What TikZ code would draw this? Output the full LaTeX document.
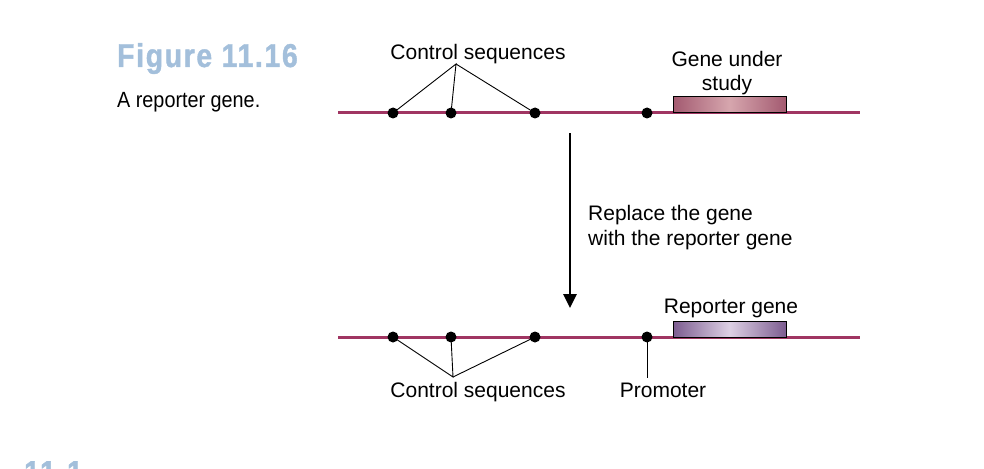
\documentclass[tikz,border=0pt]{standalone}
\usepackage{fontspec}
\setmainfont{Liberation Sans}
\newfontfamily\figfont[FakeStretch=0.86,LetterSpace=5,FakeBold=1.2]{Liberation Sans}
\newfontfamily\capfont[FakeStretch=0.9]{Liberation Sans}
\usetikzlibrary{arrows.meta,positioning}
\definecolor{figblue}{HTML}{A3BFDB}
\definecolor{dnared}{HTML}{A03562}
\definecolor{genedark}{HTML}{A35A70}
\definecolor{genelight}{HTML}{D6A6AE}
\definecolor{repdark}{HTML}{7C5C90}
\definecolor{replight}{HTML}{DDD0E4}
\tikzset{
  dna/.style={dnared,line width=3pt},
  site/.style={circle,fill=black,inner sep=0pt,minimum size=11pt},
  lbl/.style={font=\fontsize{21}{25}\selectfont,inner sep=0pt,anchor=base},
  ptr/.style={line width=0.9pt}
}
\begin{document}
\begin{tikzpicture}[x=1pt,y=-1pt]
  \useasboundingbox (0,0) rectangle (984,468);
  % Caption
  \node[figblue,anchor=base west,inner sep=0pt,font=\figfont\bfseries\fontsize{33}{38}\selectfont] (fig) at (117,67) {Figure 11.16};
  \node[anchor=base west,inner sep=0pt,font=\capfont\fontsize{22}{26}\selectfont] (cap) at (117,108) {A reporter gene.};
  \node[figblue,anchor=north west,inner sep=0pt,font=\figfont\bfseries\fontsize{33}{38}\selectfont] (sec) at (24,461) {11.1};
  % Before
  \draw[dna] (338,113) -- (860,113);
  \shade[left color=genedark,right color=genedark,middle color=genelight] (673,97) rectangle (786,113);
  \draw[line width=1pt] (673,97) rectangle (786,113);
  \node[site] (t1) at (393,113) {};
  \node[site] (t2) at (451,113) {};
  \node[site] (t3) at (535,113) {};
  \node[site] (t4) at (647,113) {};
  \node[lbl] (ctop) at (478,60) {Control sequences};
  \node[lbl] (gene1) at (727,67) {Gene under};
  \node[lbl] (gene2) at (727,91) {study};
  \coordinate (tc) at (456,64);
  \draw[ptr] (t1.center) -- (tc) -- (t2.center);
  \draw[ptr] (tc) -- (t3.center);
  % Step
  \coordinate (a1) at (570,133);
  \coordinate (a2) at (570,308);
  \draw[line width=2.8pt,-{Triangle[length=14pt,width=13pt]}] (a1) -- (a2);
  \node[lbl,anchor=base west] (step1) at (588,220) {Replace the gene};
  \node[lbl,anchor=base west] (step2) at (588,245) {with the reporter gene};
  % After
  \draw[dna] (338,337) -- (860,337);
  \shade[left color=repdark,right color=repdark,middle color=replight] (673,321) rectangle (786,337);
  \draw[line width=1pt] (673,321) rectangle (786,337);
  \node[site] (b1) at (393,337) {};
  \node[site] (b2) at (451,337) {};
  \node[site] (b3) at (535,337) {};
  \node[site] (b4) at (647,337) {};
  \node[lbl] (rep) at (731,313) {Reporter gene};
  \node[lbl] (cbot) at (478,397) {Control sequences};
  \node[lbl] (prom) at (663,397) {Promoter};
  \coordinate (bc) at (453,377);
  \coordinate (pe) at (647,378);
  \draw[ptr] (b1.center) -- (bc) -- (b2.center);
  \draw[ptr] (bc) -- (b3.center);
  \draw[ptr] (b4.center) -- (pe);
\end{tikzpicture}
\end{document}
